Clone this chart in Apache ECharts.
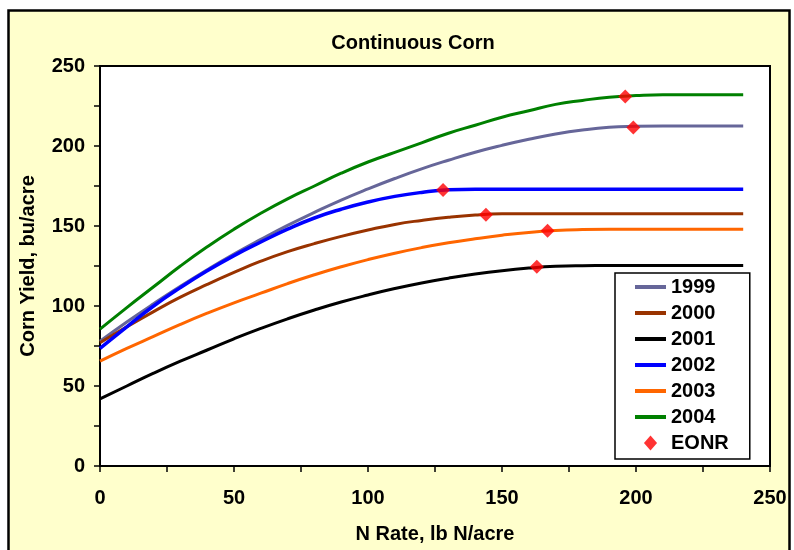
<!DOCTYPE html>
<html>
<head>
<meta charset="utf-8">
<script src="https://cdn.jsdelivr.net/npm/echarts@6/dist/echarts.min.js"></script>
<style>
html,body{margin:0;padding:0;background:#fff;}
#chart{width:794px;height:550px;}
</style>
</head>
<body>
<div id="chart"></div>
<script>
const title = 'Continuous Corn';
const xAxisName = 'N Rate, lb N/acre';
const yAxisName = 'Corn Yield, bu/acre';
const nRates = [0,10,20,30,40,50,60,70,80,90,100,110,120,130,140,150,160,170,180,190,200,210,220,230,240];
const y1999 = [78,90,101.4,112.3,122.6,132.4,141.6,150.4,158.5,166.2,173.2,179.7,185.7,191.1,196.1,200.4,204.2,207.5,210,211.7,212.3,212.5,212.5,212.5,212.5];
const y2000 = [77,87,96.5,105.5,113.5,121,128,134,139,143.5,147.5,151,153.5,155.5,156.9,157.6,157.7,157.7,157.7,157.7,157.7,157.7,157.7,157.7,157.7];
const y2001 = [42,50,58,65.5,72.5,79.5,86,92,97.5,102.5,106.9,110.9,114.4,117.4,120,122.1,123.7,124.8,125.2,125.3,125.3,125.3,125.3,125.3,125.3];
const y2002 = [73.5,87,100,111.5,122,131.5,140,148,155,160.5,165,168.5,171,172.6,173,173,173,173,173,173,173,173,173,173,173];
const y2003 = [65.5,73.5,81,88.5,95.5,102,108,114,119.5,124.5,129,133,136.5,139.5,142,144.2,146,147.2,147.8,148,148,148,148,148,148];
const y2004 = [85.5,99,112,125,137,148,158,167,175,183,190,196,202,208,213,218,222,226,228.5,230.5,231.5,232,232,232,232];
const eonrN = [199,144,163,128,167,196];
const eonrY = [211.5,157,124.5,172.5,147,231];
const seriesNames = ['1999','2000','2001','2002','2003','2004'];
const seriesColors = ['#666699','#993300','#000000','#0000FF','#FF6600','#008000'];
const seriesValues = [y1999,y2000,y2001,y2002,y2003,y2004];

const chart = echarts.init(document.getElementById('chart'));
const font = 'Liberation Sans, Arial, sans-serif';
const lineIcon = 'path://M0,0 L31,0 L31,4 L0,4 Z';
const diamondIcon = 'path://M7,0 L14,8 L7,16 L0,8 Z';
const lineSeries = seriesNames.map((name, i) => ({
  name: name,
  type: 'line',
  data: nRates.map((n, j) => [n, seriesValues[i][j]]),
  smooth: true,
  symbol: 'none',
  showSymbol: false,
  lineStyle: { color: seriesColors[i], width: name === '2002' ? 3.5 : 3 },
  itemStyle: { color: seriesColors[i] },
  animation: false
}));
lineSeries.push({
  name: 'EONR',
  type: 'scatter',
  data: eonrN.map((n, j) => [n, eonrY[j]]),
  symbol: 'diamond',
  symbolSize: 14,
  itemStyle: { color: '#FF0000' },
  z: 5,
  animation: false
});

chart.setOption({
  animation: false,
  backgroundColor: '#fff',
  graphic: [{
    type: 'rect', z: -10, silent: true,
    shape: { x: 8.5, y: 10.5, width: 781, height: 570 },
    style: { fill: '#FFFFCC', stroke: '#000', lineWidth: 2.5 }
  }],
  title: {
    text: title, left: 408, top: 28, textAlign: 'center',
    textStyle: { fontFamily: font, fontWeight: 'bold', fontSize: 20, color: '#000' }
  },
  grid: { left: 100, right: 24, top: 66, bottom: 84, show: true, backgroundColor: '#fff', borderColor: '#000', borderWidth: 2 },
  legend: {
    orient: 'vertical', left: 615, top: 273,
    data: seriesNames.map(n => ({ name: n, icon: lineIcon })).concat([{ name: 'EONR', icon: diamondIcon }]),
    itemWidth: 31, itemHeight: 15, itemGap: 6,
    symbolKeepAspect: true,
    padding: [4, 21, 6, 20],
    backgroundColor: '#fff', borderColor: '#000', borderWidth: 1.5,
    textStyle: { fontFamily: font, fontWeight: 'bold', fontSize: 20, color: '#000' }
  },
  xAxis: {
    type: 'value', min: 0, max: 250, interval: 25,
    name: xAxisName, nameLocation: 'middle', nameGap: 58,
    nameTextStyle: { fontFamily: font, fontWeight: 'bold', fontSize: 20, color: '#000' },
    axisLine: { show: true, lineStyle: { color: '#000', width: 2 } },
    axisTick: { show: true, length: 6, lineStyle: { color: '#000', width: 1.5 } },
    splitLine: { show: false },
    axisLabel: { margin: 22, fontFamily: font, fontWeight: 'bold', fontSize: 20, color: '#000',
      formatter: v => (v % 50 === 0 ? String(v) : '') }
  },
  yAxis: {
    type: 'value', min: 0, max: 250, interval: 25,
    name: yAxisName, nameLocation: 'middle', nameGap: 62,
    nameTextStyle: { fontFamily: font, fontWeight: 'bold', fontSize: 20, color: '#000' },
    axisLine: { show: true, lineStyle: { color: '#000', width: 2 } },
    axisTick: { show: true, length: 6, lineStyle: { color: '#000', width: 1.5 } },
    splitLine: { show: false },
    axisLabel: { margin: 15, fontFamily: font, fontWeight: 'bold', fontSize: 20, color: '#000',
      formatter: v => (v % 50 === 0 ? String(v) : '') }
  },
  series: lineSeries
});
</script>
</body>
</html>
